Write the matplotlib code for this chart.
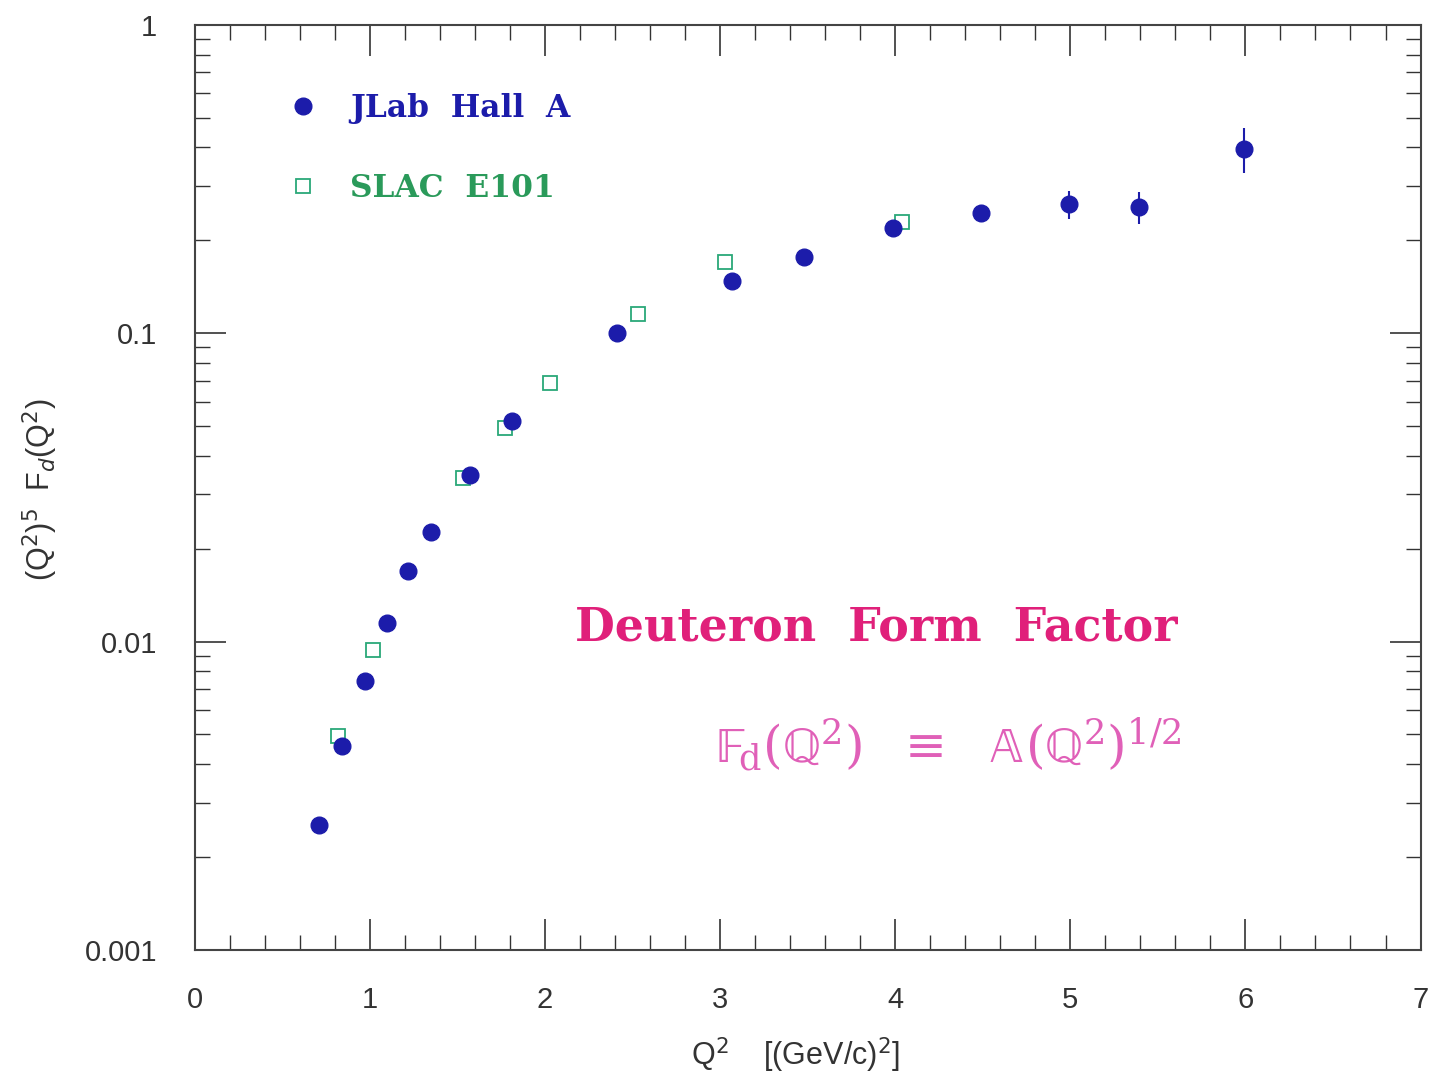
import matplotlib
matplotlib.use("Agg")
import matplotlib.pyplot as plt
from matplotlib.lines import Line2D
from matplotlib.ticker import MultipleLocator, FixedLocator, LogLocator, NullFormatter

# JLab Hall A
jlab_q2 = [0.71, 0.84, 0.97, 1.10, 1.22, 1.35, 1.57, 1.81, 2.41, 3.07, 3.48, 3.99, 4.49, 4.99, 5.39, 5.99]
jlab_f = [0.00255, 0.00459, 0.00747, 0.0115, 0.0169, 0.0226, 0.0348, 0.0518, 0.100, 0.148, 0.177, 0.219, 0.245, 0.262, 0.256, 0.396]
jlab_err = [0, 0, 0, 0, 0, 0, 0, 0, 0, 0, 0.004, 0.008, 0.015, 0.028, 0.030, 0.065]

# SLAC E101
slac_q2 = [0.82, 1.02, 1.53, 1.77, 2.03, 2.53, 3.03, 4.04]
slac_f = [0.00495, 0.0094, 0.0338, 0.0492, 0.0688, 0.115, 0.170, 0.229]

ytick_vals = [0.001, 0.01, 0.1, 1]
ytick_labels = ["0.001", "0.01", "0.1", "1"]

blue = "#1c1caa"
green = "#2aa878"
sans = "Liberation Sans"

fig = plt.figure(figsize=(14.32, 10.74), dpi=100)
ax = fig.add_axes([0.136, 0.1155, 0.856, 0.8615])

ax.errorbar(jlab_q2, jlab_f, yerr=jlab_err, fmt="o", color=blue, ms=12,
            elinewidth=1.5, capsize=0, zorder=3)
ax.plot(slac_q2, slac_f, "s", mfc="none", mec=green, ms=10, mew=1.3, zorder=2)

ax.set_yscale("log")
ax.set_xlim(0, 7)
ax.set_ylim(0.001, 1)

ax.xaxis.set_major_locator(MultipleLocator(1))
ax.xaxis.set_minor_locator(MultipleLocator(0.2))
ax.yaxis.set_major_locator(FixedLocator(ytick_vals))
ax.set_yticklabels(ytick_labels)
ax.yaxis.set_minor_locator(LogLocator(base=10, subs=range(2, 10)))
ax.yaxis.set_minor_formatter(NullFormatter())

ax.tick_params(which="both", direction="in", top=True, right=True, color="#333333")
ax.tick_params(which="major", length=22, width=1.2, labelsize=21, labelcolor="#333333")
ax.tick_params(axis="x", which="major", pad=26)
ax.tick_params(axis="y", which="major", pad=27)
ax.tick_params(which="minor", length=11, width=1.0)
for lab in ax.get_xticklabels() + ax.get_yticklabels():
    lab.set_family(sans)
for s in ax.spines.values():
    s.set_linewidth(1.5)
    s.set_color("#444444")

ax.set_xlabel(r"Q$^2$    [(GeV/c)$^2$]", fontsize=22, color="#333333", family=sans)
ax.xaxis.set_label_coords(0.49, -0.092)
ax.set_ylabel(r"(Q$^2$)$^5$  F$_d$(Q$^2$)", fontsize=22, color="#333333", family=sans)
ax.yaxis.set_label_coords(-0.110, 0.497)

handles = [Line2D([], [], ls="none", marker="o", color=blue, ms=12),
           Line2D([], [], ls="none", marker="s", mfc="none", mec=green, ms=10, mew=1.3)]
leg = ax.legend(handles, ["JLab  Hall  A", "SLAC  E101"], loc="upper left",
                bbox_to_anchor=(0.053, 0.957), frameon=False,
                prop={"family": "DejaVu Serif", "weight": "bold", "size": 22.5},
                labelspacing=1.58, handletextpad=1.0, numpoints=1, handlelength=1.0)
leg.get_texts()[0].set_color(blue)
leg.get_texts()[1].set_color("#2a9a5a")

ax.text(0.556, 0.349, "Deuteron  Form  Factor", transform=ax.transAxes,
        ha="center", va="center", fontsize=33, fontweight="bold",
        family="DejaVu Serif", color="#e0207a")
ax.text(0.615, 0.222, "$\U0001D53D_{\\mathrm{d}}(\u211A^{2})\\ \\ \\equiv\\ \\ \U0001D538(\u211A^{2})^{1/2}$",
        transform=ax.transAxes, ha="center", va="center", fontsize=36, color="#e060b8",
        math_fontfamily="dejavuserif")

fig.savefig("out.png", dpi=100)
